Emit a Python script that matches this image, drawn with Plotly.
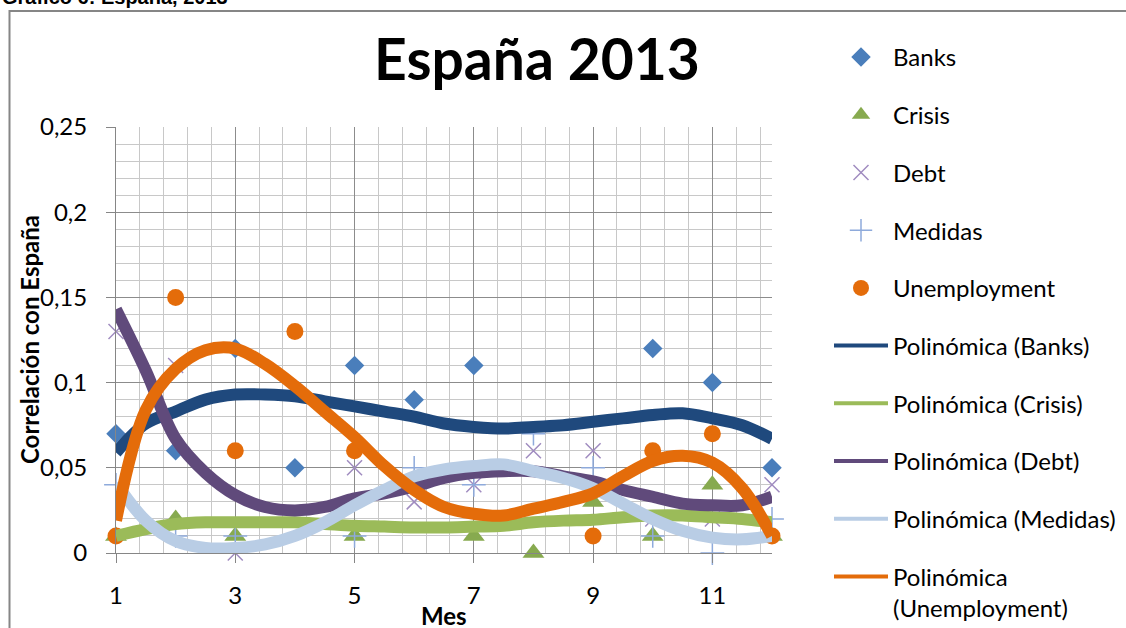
import plotly.graph_objects as go

# ---- data ----
months = [1, 2, 3, 4, 5, 6, 7, 8, 9, 10, 11, 12]
banks = [0.07, 0.06, 0.12, 0.05, 0.11, 0.09, 0.11, None, None, 0.12, 0.10, 0.05]
crisis = [0.01, 0.02, 0.01, None, 0.01, None, 0.01, 0.0, 0.03, 0.01, 0.04, 0.01]
debt = [0.13, 0.11, 0.0, None, 0.05, 0.03, 0.04, 0.06, 0.06, 0.02, 0.02, 0.04]
medidas = [0.04, 0.01, 0.01, None, 0.01, 0.05, 0.04, 0.07, 0.05, 0.01, 0.0, 0.02]
unemployment = [0.01, 0.15, 0.06, 0.13, 0.06, None, None, None, 0.01, 0.06, 0.07, 0.01]

# polynomial trendlines, every half month
trend_x = [1, 1.5, 2, 2.5, 3, 3.5, 4, 4.5, 5, 5.5, 6, 6.5,
           7, 7.5, 8, 8.5, 9, 9.5, 10, 10.5, 11, 11.5, 12]
banks_trend = [0.059, 0.076, 0.083, 0.090, 0.093, 0.093, 0.092, 0.089, 0.086, 0.083, 0.080, 0.076,
               0.074, 0.073, 0.074, 0.075, 0.077, 0.079, 0.081, 0.082, 0.079, 0.075, 0.067]
crisis_trend = [0.010, 0.014, 0.017, 0.018, 0.018, 0.018, 0.018, 0.017, 0.016, 0.0155, 0.015, 0.015,
                0.0155, 0.016, 0.018, 0.019, 0.0195, 0.021, 0.022, 0.022, 0.021, 0.020, 0.018]
debt_trend = [0.143, 0.107, 0.067, 0.047, 0.034, 0.027, 0.025, 0.027, 0.032, 0.035, 0.039, 0.044,
              0.047, 0.048, 0.048, 0.045, 0.042, 0.037, 0.033, 0.029, 0.028, 0.028, 0.033]
medidas_trend = [0.041, 0.019, 0.007, 0.003, 0.003, 0.005, 0.010, 0.018, 0.028, 0.037, 0.045, 0.049,
                 0.051, 0.052, 0.048, 0.044, 0.038, 0.029, 0.020, 0.013, 0.009, 0.008, 0.010]
unemployment_trend = [0.019, 0.084, 0.108, 0.119, 0.120, 0.111, 0.098, 0.083, 0.068, 0.051, 0.037, 0.027,
                      0.023, 0.022, 0.026, 0.030, 0.035, 0.045, 0.054, 0.057, 0.053, 0.038, 0.010]

series_names = ["Banks", "Crisis", "Debt", "Medidas", "Unemployment"]
trend_names = ["Polinómica (Banks)", "Polinómica (Crisis)", "Polinómica (Debt)",
               "Polinómica (Medidas)", "Polinómica<br>(Unemployment)"]
y_ticks = [0, 0.05, 0.1, 0.15, 0.2, 0.25]
x_ticks = [1, 3, 5, 7, 9, 11]

FONT = "Lato, 'Open Sans', sans-serif"

fig = go.Figure()

marker_styles = [
    dict(symbol="diamond", size=15, color="#4A7EBB"),
    dict(symbol="triangle-up", size=19, color="#87AA4F"),
    dict(symbol="x-thin-open", size=15, color="#A08CC0", line=dict(color="#A08CC0", width=1.5)),
    dict(symbol="cross-thin-open", size=17, color="#8EAADB", line=dict(color="#8EAADB", width=1.5)),
    dict(symbol="circle", size=17, color="#E46C0A"),
]
for name, vals, ms in zip(series_names, [banks, crisis, debt, medidas, unemployment], marker_styles):
    fig.add_trace(go.Scatter(x=months, y=vals, mode="markers", name=name, marker=ms,
                             cliponaxis=False, legendgroup=name))

line_colors = ["#1F497D", "#9BBB59", "#604A7B", "#B9CDE5", "#E46C0A"]
for name, vals, col in zip(trend_names, [banks_trend, crisis_trend, debt_trend, medidas_trend, unemployment_trend], line_colors):
    fig.add_trace(go.Scatter(x=trend_x, y=vals, mode="lines", line=dict(color=col, width=12, shape="spline"),
                             showlegend=False, name=name))
for name, col in zip(trend_names, line_colors):
    fig.add_trace(go.Scatter(x=[None], y=[None], mode="lines", line=dict(color=col, width=4),
                             name=name, legendgroup=name))

W, H = 1126, 628
L, R, T, B = 116, 354, 127, 75
pw, ph = W - L - R, H - T - B

def px(xp):
    return (xp - L) / pw

def py(yp):
    return (H - B - yp) / ph

fig.update_layout(
    width=W, height=H,
    margin=dict(l=L, r=R, t=T, b=B, autoexpand=False),
    paper_bgcolor="white", plot_bgcolor="white",
    separators=", ",
    font=dict(family=FONT, size=24, color="black"),
    showlegend=True,
    legend=dict(x=px(829), xanchor="left", y=py(35), yanchor="top",
                font=dict(family=FONT, size=24, color="black"),
                itemwidth=54, tracegroupgap=23.5, valign="top", maxheight=640,
                bgcolor="rgba(0,0,0,0)"),
    xaxis=dict(range=[1, 12], tickvals=x_ticks, ticks="outside", ticklen=9, tickcolor="#868686",
               showgrid=True, gridcolor="#8C8C8C", gridwidth=1,
               minor=dict(tick0=1, dtick=0.4, showgrid=True, gridcolor="#C8C8C8", gridwidth=1),
               showline=True, linecolor="#868686", linewidth=1, zeroline=False,
               ticklabelstandoff=12, tickfont=dict(size=24, color="black")),
    yaxis=dict(range=[0, 0.25], tickvals=y_ticks, ticks="outside", ticklen=9, tickcolor="#868686",
               showgrid=True, gridcolor="#8C8C8C", gridwidth=1,
               minor=dict(tick0=0, dtick=0.01, showgrid=True, gridcolor="#C8C8C8", gridwidth=1),
               showline=True, linecolor="#868686", linewidth=1, zeroline=False,
               ticklabelstandoff=14, tickfont=dict(size=24, color="black")),
    shapes=[dict(type="rect", xref="paper", yref="paper", x0=px(9.5), x1=1.7, y0=-0.5, y1=py(11),
                 line=dict(color="#868686", width=2), fillcolor="rgba(0,0,0,0)", layer="below")],
    annotations=[
        dict(text="<b>España 2013</b>", xref="paper", yref="paper", x=px(537), y=py(58),
             xanchor="center", yanchor="middle", showarrow=False,
             font=dict(family=FONT, size=57, color="black")),
        dict(text="<b>Correlación con España</b>", xref="paper", yref="paper", x=px(29), y=py(340),
             xanchor="center", yanchor="middle", textangle=-90, showarrow=False,
             font=dict(family=FONT, size=24, color="black")),
        dict(text="<b>Mes</b>", xref="paper", yref="paper", x=px(444), y=py(615),
             xanchor="center", yanchor="middle", showarrow=False,
             font=dict(family=FONT, size=24, color="black")),
        dict(text="<b>Gráfico 6: España, 2013</b>", xref="paper", yref="paper", x=px(0), y=py(10),
             xanchor="left", yanchor="bottom", showarrow=False,
             font=dict(family="Liberation Sans, Arial, sans-serif", size=20, color="black")),
    ],
)

fig.write_html("out.html", config={"displayModeBar": False},
               post_script="document.body.style.margin='0';")
